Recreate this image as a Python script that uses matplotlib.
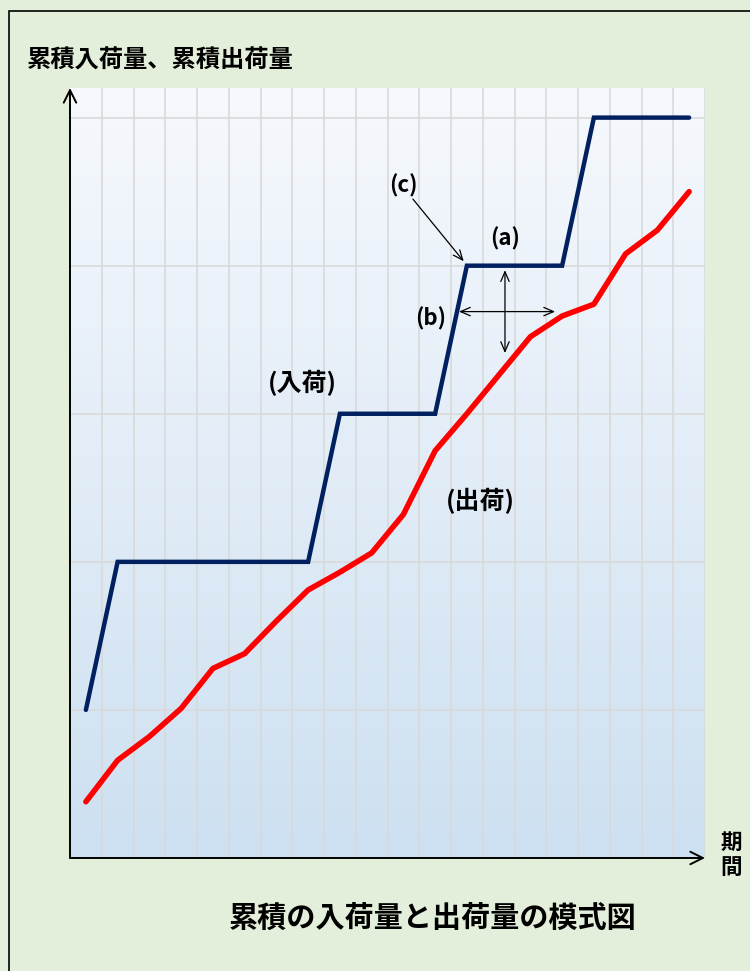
import numpy as np
import matplotlib
matplotlib.use('Agg')
from matplotlib import pyplot as plt
from matplotlib.patches import Rectangle

plt.rcParams['font.family'] = ['Noto Sans CJK JP', 'DejaVu Sans']

# cumulative inbound (step-like), vertices
in_x = [0.5, 1.5, 7.5, 8.5, 11.5, 12.5, 15.5, 16.5, 19.5]
in_y = [1, 2, 2, 3, 3, 4, 4, 5, 5]

# cumulative outbound, one point per period
out_x = [i + 0.5 for i in range(20)]
out_y = [0.38, 0.66, 0.82, 1.01, 1.28, 1.38, 1.60, 1.81, 1.93, 2.06,
         2.32, 2.75, 3.00, 3.26, 3.52, 3.66, 3.74, 4.08, 4.24, 4.50]

ylabel = '累積入荷量、累積出荷量'
xlabel = '期\n間'
title = '累積の入荷量と出荷量の模式図'

W, H = 750, 971
fig = plt.figure(figsize=(W / 100, H / 100), dpi=100)
fig.patch.set_facecolor('#e3efda')

# outer frame
fig.patches.append(Rectangle((9 / W, -0.1), 1.2, (H - 11) / H + 0.1,
                             transform=fig.transFigure, fill=False,
                             edgecolor='black', lw=1.2))

ax = fig.add_axes([70 / W, (H - 858) / H, 635 / W, 770 / H])
ax.set_xlim(0, 20)
ax.set_ylim(0, 5.2)

# gradient background
grad = np.linspace(0, 1, 256).reshape(-1, 1)
top = np.array([0.965, 0.976, 0.992])
bot = np.array([0.804, 0.878, 0.945])
img = top * (1 - grad[..., None]) + bot * grad[..., None]
ax.imshow(img, extent=[0, 20, 0, 5.2], aspect='auto', zorder=0, origin='upper')

for xv in range(1, 21):
    ax.axvline(xv, color='#d9d9d9', lw=1.2, zorder=1)
for yv in range(1, 6):
    ax.axhline(yv, color='#d9d9d9', lw=1.2, zorder=1)

for s in ax.spines.values():
    s.set_visible(False)
ax.set_xticks([])
ax.set_yticks([])

ax.plot(in_x, in_y, color='#002060', lw=3.2, zorder=3, solid_joinstyle='miter',
        solid_capstyle='round')
ax.plot(out_x, out_y, color='#ff0000', lw=4.0, zorder=3, solid_joinstyle='round',
        solid_capstyle='round')

# axes arrows
arr = dict(arrowstyle='->,head_length=0.9,head_width=0.45', lw=1.4, color='black',
           shrinkA=0, shrinkB=0)
ax.annotate('', xy=(0, 1), xytext=(0, 0), xycoords='axes fraction',
            arrowprops=arr, annotation_clip=False, zorder=5)
ax.annotate('', xy=(1, 0), xytext=(0, 0), xycoords='axes fraction',
            arrowprops=arr, annotation_clip=False, zorder=5)

# annotations
thin = dict(arrowstyle='->,head_length=0.7,head_width=0.3', lw=0.9, color='black',
            shrinkA=0, shrinkB=0)
thin2 = dict(arrowstyle='<->,head_length=0.7,head_width=0.3', lw=0.9, color='black',
             shrinkA=0, shrinkB=0)
ax.annotate('', xy=(12.4, 4.03), xytext=(10.8, 4.45), arrowprops=thin, zorder=4)
ax.annotate('', xy=(15.28, 3.69), xytext=(12.25, 3.69), arrowprops=thin2, zorder=4)
ax.annotate('', xy=(13.7, 3.97), xytext=(13.7, 3.41), arrowprops=thin2, zorder=4)

lab = dict(fontweight='bold', ha='center', va='center', zorder=4)
ax.text(10.49, 4.54, '(c)', fontsize=16, **lab)
ax.text(13.7, 4.18, '(a)', fontsize=16, **lab)
ax.text(11.37, 3.64, '(b)', fontsize=16, **lab)
ax.text(7.31, 3.21, '(入荷)', fontsize=18, **lab)
ax.text(12.93, 2.41, '(出荷)', fontsize=18, **lab)

fig.text(27 / W, 1 - 61 / H, ylabel, fontsize=17.5, fontweight='bold',
         ha='left', va='center')
fig.text(731 / W, 1 - 855 / H, xlabel, fontsize=15.5, fontweight='bold',
         ha='center', va='center', linespacing=1.2)
fig.text(433 / W, 1 - 918 / H, title, fontsize=21, fontweight='bold',
         ha='center', va='center')

fig.savefig('out.png', dpi=100, facecolor=fig.get_facecolor())
